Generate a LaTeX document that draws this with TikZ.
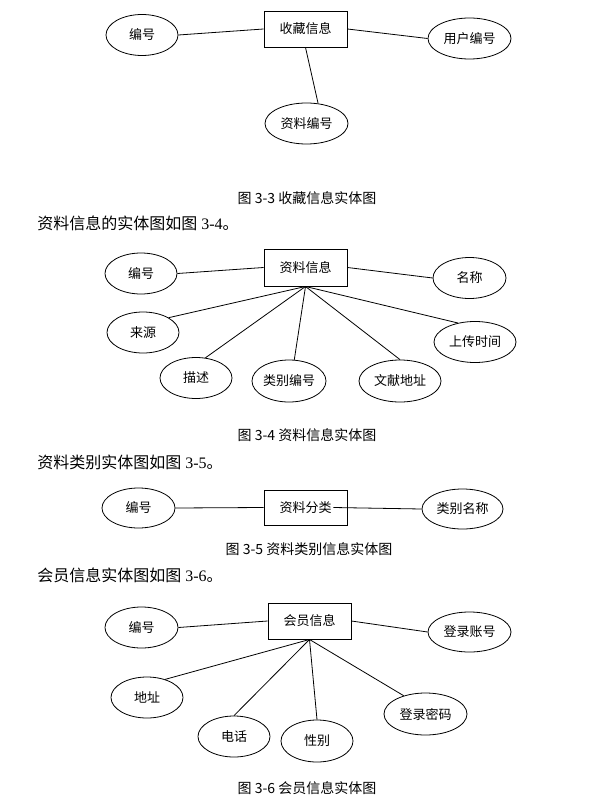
\documentclass[tikz,border=0pt]{standalone}
\usepackage{fontspec}
\setmainfont{Liberation Serif}
\newfontfamily\cjk{Noto Sans CJK SC}
\usetikzlibrary{shapes.geometric}

\begin{document}
\begin{tikzpicture}[x=1pt, y=-1pt,
  ent/.style={draw, line width=0.95pt, minimum width=83pt, minimum height=36pt,
    inner sep=0pt, font=\cjk\fontsize{13}{15}\selectfont},
  attr/.style={draw, ellipse, line width=0.8pt, minimum width=72pt, minimum height=41pt,
    inner sep=0pt, font=\cjk\fontsize{13}{15}\selectfont},
  wattr/.style={attr, minimum width=83pt},
  figcap/.style={font=\cjk\fontsize{14}{16}\selectfont},
  body/.style={anchor=west, inner sep=0pt, font=\fontsize{16}{18}\selectfont},
  every path/.style={line width=0.8pt}]
  \useasboundingbox (0,0) rectangle (597,805);

  % 3-3
  \node [ent] (sc) at (305.5,29) {收藏信息};
  \node [attr] (sc1) at (142,35) {编号};
  \node [wattr] (sc2) at (469.5,38.5) {用户编号};
  \node [wattr] (sc3) at (306.5,123.5) {资料编号};
  \draw (sc1.east) -- (sc.west);
  \draw (sc.east) -- (sc2.west);
  \draw (sc.south) -- (sc3.60);
  \node [figcap] (cap1) at (307,198) {图 3-3 收藏信息实体图};

  % 3-4
  \node [body] (txt2) at (37,223) {{\cjk 资料信息的实体图如图} 3-4{\cjk 。}};
  \node [ent, minimum height=37pt] (zl) at (305.5,267.5) {资料信息};
  \node [attr] (zl1) at (141,273.5) {编号};
  \node [attr, minimum width=73pt] (zl2) at (469.5,278) {名称};
  \node [attr] (zl3) at (143,332.5) {来源};
  \node [wattr, minimum width=82pt] (zl4) at (475,342) {上传时间};
  \node [attr] (zl5) at (196,378) {描述};
  \node [attr, minimum width=74pt, minimum height=42pt] (zl6) at (289,381) {类别编号};
  \node [wattr, minimum width=82pt, minimum height=42pt] (zl7) at (400,381) {文献地址};
  \draw (zl1.east) -- (zl.west);
  \draw (zl.east) -- (zl2.west);
  \draw (zl.south) -- (zl3.30);
  \draw (zl.south) -- (zl5.65);
  \draw (zl.south) -- (zl6.76);
  \draw (zl.south) -- (zl7.north);
  \draw (zl.south) -- (zl4.132);
  \node [figcap] (cap2) at (307,435.5) {图 3-4 资料信息实体图};

  % 3-5
  \node [body] (txt3) at (37,462) {{\cjk 资料类别实体图如图} 3-5{\cjk 。}};
  \node [ent, minimum height=35pt] (fl) at (305.5,507.5) {资料分类};
  \node [attr, minimum width=73pt, minimum height=40pt] (fl1) at (138.5,508) {编号};
  \node [attr, minimum width=81pt, minimum height=40pt] (fl2) at (462.5,509) {类别名称};
  \draw (fl1.east) -- (fl.west);
  \draw ([xshift=-14pt]fl.east) -- (fl2.west);
  \node [figcap] (cap3) at (309,549) {图 3-5 资料类别信息实体图};

  % 3-6
  \node [body] (txt4) at (37,575) {{\cjk 会员信息实体图如图} 3-6{\cjk 。}};
  \node [ent] (hy) at (309.5,621) {会员信息};
  \node [attr, minimum width=73pt] (hy1) at (141.5,627.5) {编号};
  \node [wattr, minimum height=40pt] (hy2) at (469.5,632) {登录账号};
  \node [attr] (hy3) at (147,697.5) {地址};
  \node [attr] (hy4) at (234,736.5) {电话};
  \node [attr, minimum height=42pt] (hy5) at (317,741) {性别};
  \node [wattr, minimum height=42pt] (hy6) at (425.5,714) {登录密码};
  \draw (hy1.east) -- (hy.west);
  \draw (hy.east) -- (hy2.west);
  \draw (hy.south) -- (hy3.45);
  \draw (hy.south) -- (hy4.north);
  \draw (hy.south) -- (hy5.north);
  \draw (hy.south) -- (hy6.140);
  \node [figcap] (cap4) at (307,788) {图 3-6 会员信息实体图};
\end{tikzpicture}
\end{document}
